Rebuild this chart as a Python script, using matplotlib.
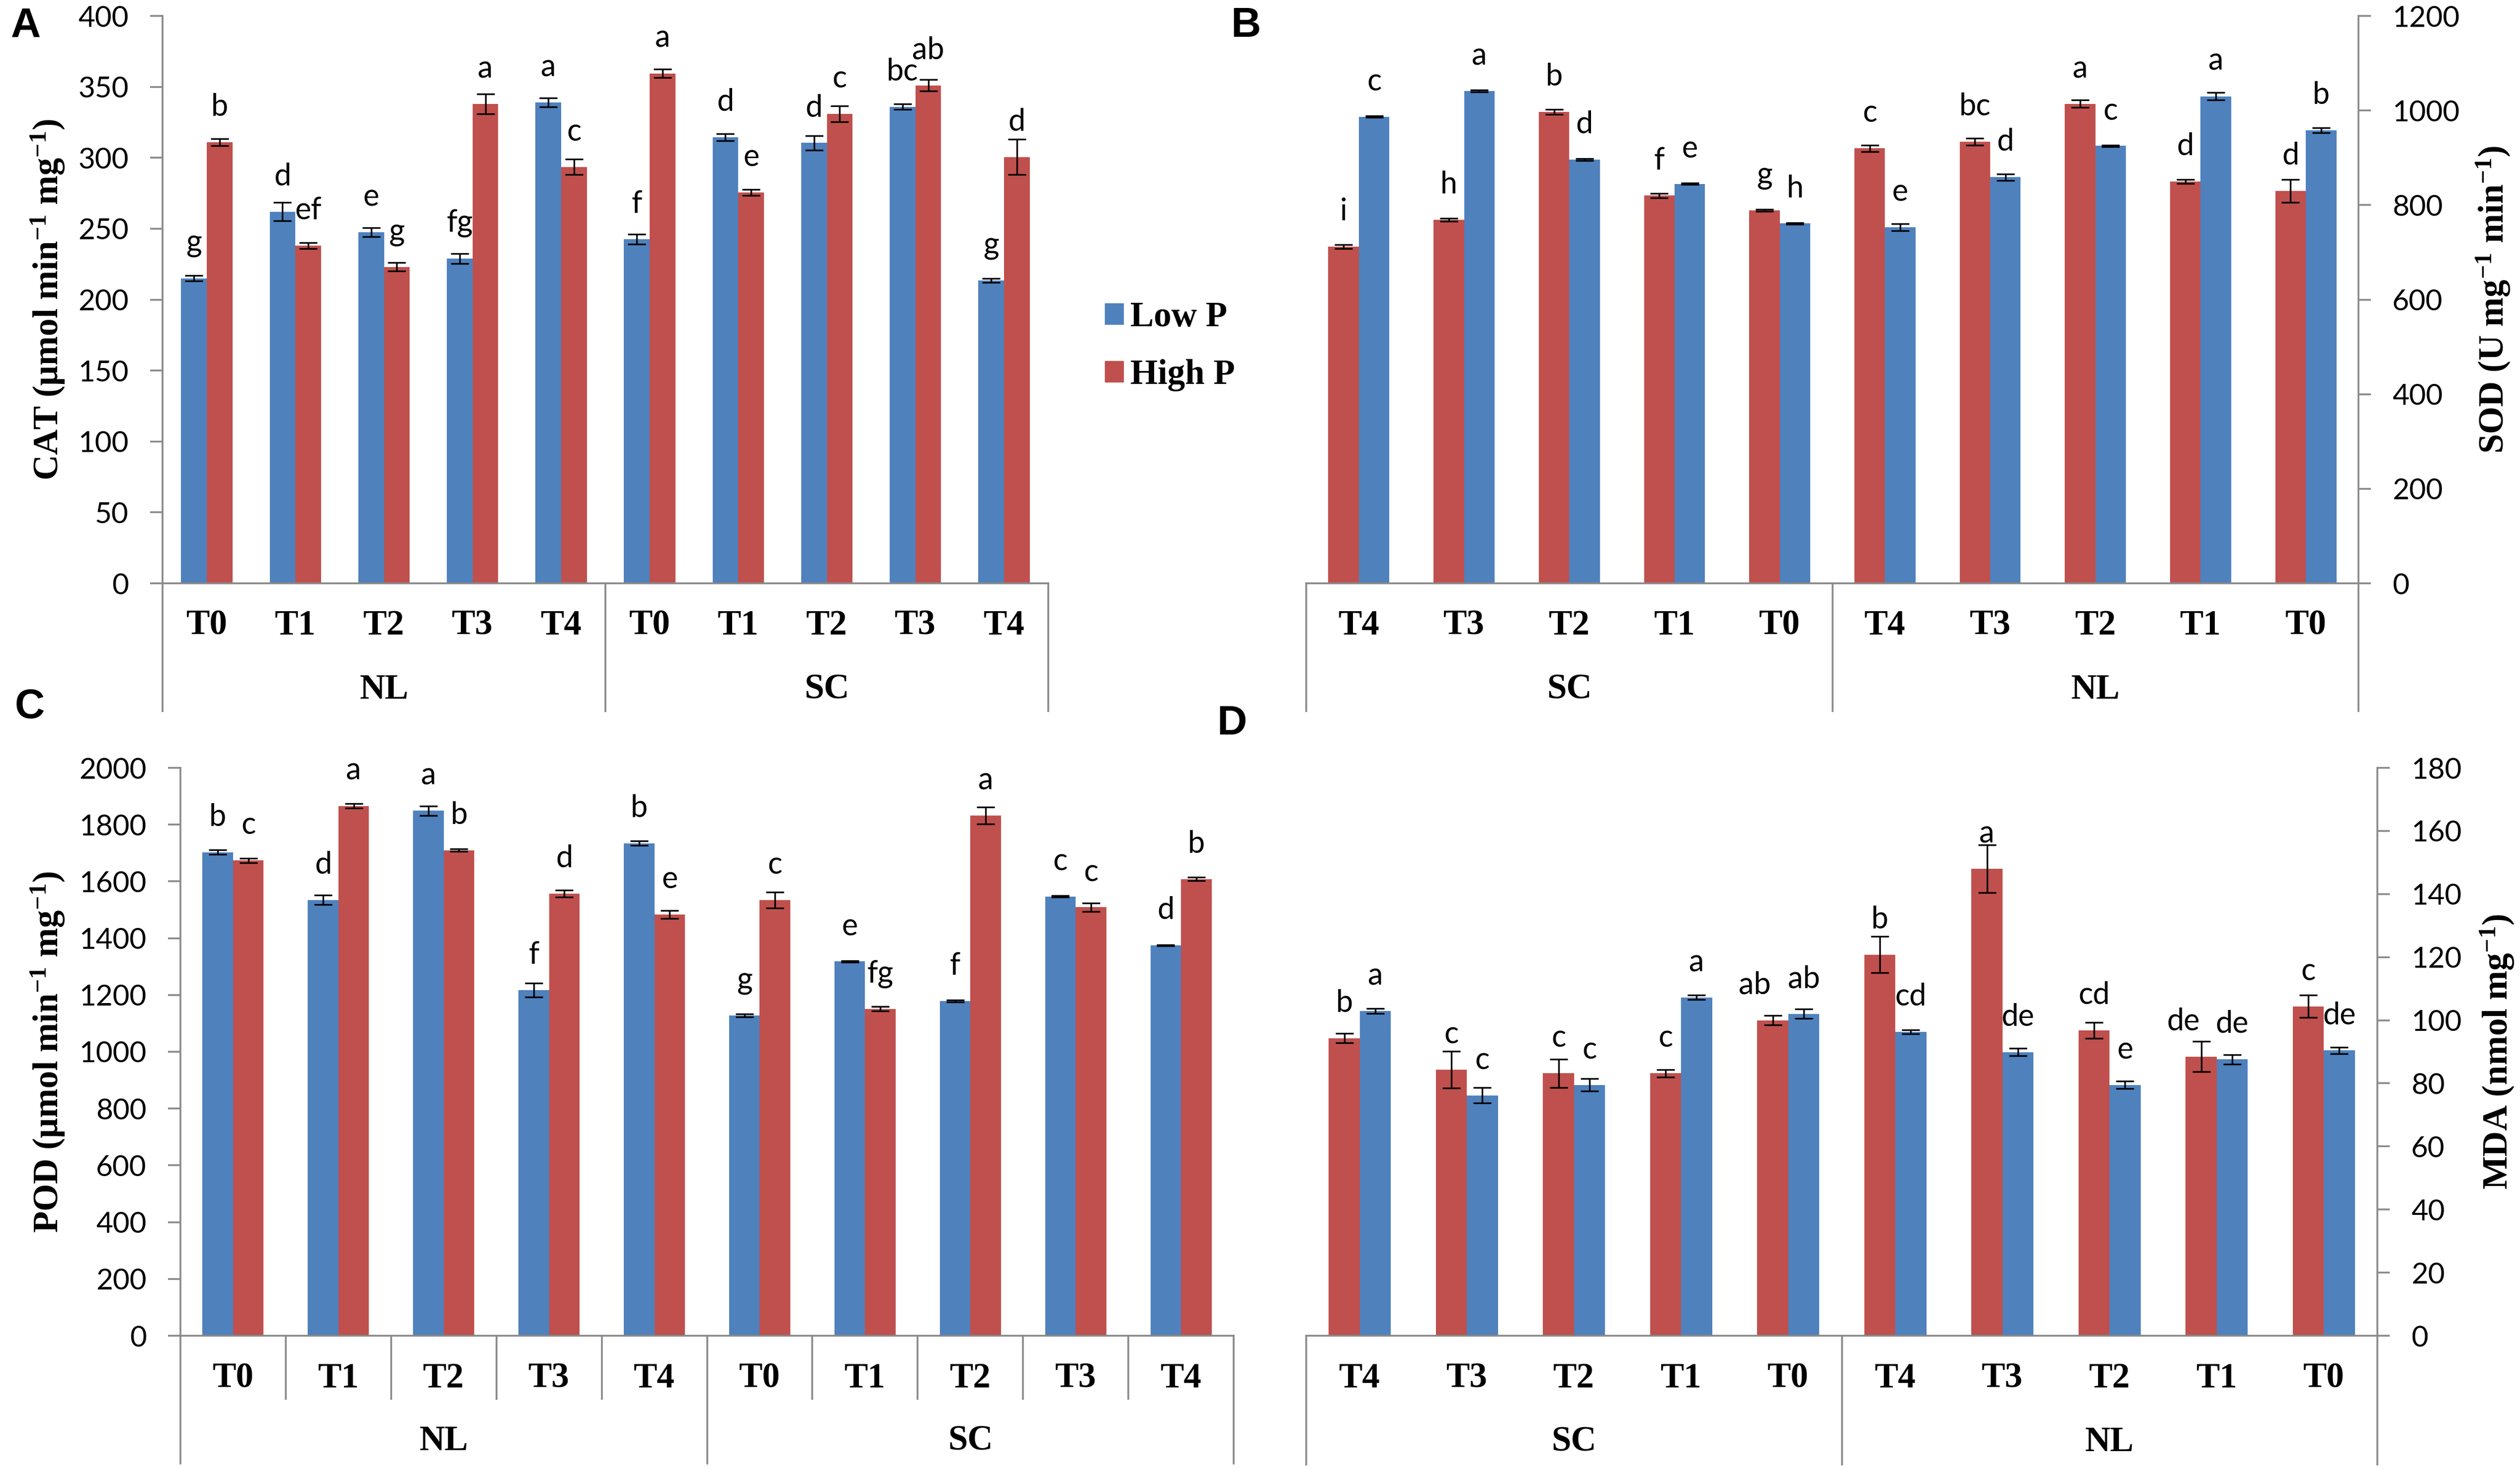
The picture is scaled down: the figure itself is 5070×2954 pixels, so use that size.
import numpy as np
import matplotlib
matplotlib.use('Agg')
import matplotlib.pyplot as plt
from matplotlib.patches import Patch

plt.rcParams['mathtext.fontset'] = 'custom'
plt.rcParams['mathtext.rm'] = 'Liberation Serif:bold'
plt.rcParams['mathtext.bf'] = 'Liberation Serif:bold'
plt.rcParams['mathtext.it'] = 'Liberation Serif:bold'

# datos
cat_fwd = ['T0', 'T1', 'T2', 'T3', 'T4', 'T0', 'T1', 'T2', 'T3', 'T4']
grp_fwd = ['NL', 'SC']
cat_rev = ['T4', 'T3', 'T2', 'T1', 'T0', 'T4', 'T3', 'T2', 'T1', 'T0']
grp_rev = ['SC', 'NL']

# A - CAT (orden NL T0..T4, SC T0..T4)
cat_low = [215, 262, 247.5, 229, 339, 242.5, 314.5, 310.5, 336, 213.5]
cat_low_err = [2, 6.5, 3, 3.5, 3, 3.5, 2.5, 5, 2, 1.5]
cat_high = [311, 238, 223, 338, 293.5, 359.5, 275.5, 331, 351, 300.5]
cat_high_err = [2.5, 2, 3, 7, 5.5, 3, 2, 5.5, 4, 12.5]
cat_low_lab = ['g', 'd', 'e', 'fg', 'a', 'f', 'd', 'd', 'bc', 'g']
cat_high_lab = ['b', 'ef', 'g', 'a', 'c', 'a', 'e', 'c', 'ab', 'd']

# B - SOD (orden SC T4..T0, NL T4..T0)
sod_high = [712, 769, 997, 820, 789, 920, 934, 1014, 850, 830]
sod_high_err = [4, 3, 5, 5, 2, 7, 7, 8, 4, 24]
sod_low = [987, 1041, 896, 845, 761, 753, 859, 925, 1030, 958]
sod_low_err = [2, 2, 2, 2, 2, 7, 7, 2, 8, 5]
sod_high_lab = ['i', 'h', 'b', 'f', 'g', 'c', 'bc', 'a', 'd', 'd']
sod_low_lab = ['c', 'a', 'd', 'e', 'h', 'e', 'd', 'c', 'a', 'b']

# C - POD (orden NL T0..T4, SC T0..T4)
pod_low = [1703, 1535, 1849, 1217, 1734, 1128, 1318, 1179, 1547, 1375]
pod_low_err = [8, 17, 17, 25, 8, 5, 3, 3, 3, 2]
pod_high = [1674, 1866, 1710, 1557, 1484, 1535, 1151, 1832, 1509, 1608]
pod_high_err = [8, 8, 5, 12, 14, 28, 8, 30, 15, 6]
pod_low_lab = ['b', 'd', 'a', 'f', 'b', 'g', 'e', 'f', 'c', 'd']
pod_high_lab = ['c', 'a', 'b', 'd', 'e', 'c', 'fg', 'a', 'c', 'b']

# D - MDA (orden SC T4..T0, NL T4..T0)
mda_high = [94.3, 84.3, 83.2, 83.2, 100, 120.8, 148, 96.8, 88.5, 104.4]
mda_high_err = [1.5, 5.8, 4.5, 1.2, 1.5, 5.8, 7.5, 2.5, 4.8, 3.5]
mda_low = [102.9, 76.2, 79.5, 107.2, 102, 96.3, 89.9, 79.5, 87.6, 90.4]
mda_low_err = [0.8, 2.5, 2, 0.7, 1.5, 0.6, 1.2, 1.2, 1.5, 1]
mda_high_lab = ['b', 'c', 'c', 'c', 'ab', 'b', 'a', 'cd', 'de', 'c']
mda_low_lab = ['a', 'c', 'c', 'a', 'ab', 'cd', 'de', 'e', 'de', 'de']

AZUL = '#4F81BD'
ROJO = '#C0504D'
GRIS = '#898989'

W, H = 5070, 2954
fig = plt.figure(figsize=(W / 100, H / 100), dpi=100)


def fx(px):
  return px / W


def fy(py):
  return 1 - py / H


def genPanel(box, cats, grupos, series, ymax, ystep, lado, ylabel, ylab_x,
             y_cat, y_grp, y_fin, y_corto=None, desplaza=None):
  left, right, top, bottom = box
  desplaza = desplaza or {}
  ax = fig.add_axes([fx(left), fy(bottom), (right - left) / W, (bottom - top) / H])
  x = np.arange(len(cats))
  ancho = 0.29
  # series: lista de (valores, errores, letras, color) de izquierda a derecha
  for k, (vals, errs, letras, color) in enumerate(series):
    pos = x + (k - 0.5) * ancho
    ax.bar(pos, vals, ancho, color=color, zorder=2)
    ax.errorbar(pos, vals, yerr=errs, fmt='none', ecolor='black',
                elinewidth=2.4, capsize=13, capthick=2.4, zorder=3)
    for i, (p, v, t) in enumerate(zip(pos, vals, letras)):
      dx = desplaza.get((k, i), 0)
      ax.annotate(t, (p, v), xytext=(dx, 38), textcoords='offset points',
                  ha='center', va='baseline', fontsize=44, family='Lato')

  ax.set_xlim(-0.5, len(cats) - 0.5)
  ax.set_ylim(0, ymax)
  ax.set_yticks(np.arange(0, ymax + 1, ystep))
  ax.set_xticks([])
  for s in ['top', 'left', 'right', 'bottom']:
    ax.spines[s].set_visible(False)
  ax.spines['bottom'].set_visible(True)
  ax.spines['bottom'].set_color(GRIS)
  ax.spines['bottom'].set_linewidth(2.6)
  ax.spines[lado].set_visible(True)
  ax.spines[lado].set_color(GRIS)
  ax.spines[lado].set_linewidth(2.6)
  if lado == 'right':
    ax.yaxis.tick_right()
  ax.tick_params(axis='y', direction='out', length=18, width=2.6, color=GRIS,
                 pad=31, labelsize=42)
  for lab in ax.get_yticklabels():
    lab.set_family('Lato')

  tr = ax.get_xaxis_transform()
  alto = bottom - top

  def yax(py):
    return (bottom - py) / alto

  for i, c in enumerate(cats):
    ax.text(i, yax(y_cat), c, transform=tr, ha='center', va='center',
            fontsize=51, family='Liberation Serif', weight='bold')
  n = len(cats) // len(grupos)
  for j, g in enumerate(grupos):
    ax.text(j * n + (n - 1) / 2, yax(y_grp), g, transform=tr, ha='center',
            va='center', fontsize=51, family='Liberation Serif', weight='bold')
  for b in np.arange(len(cats) + 1) - 0.5:
    largo = (b + 0.5) % n == 0
    if largo:
      ax.plot([b, b], [0, yax(y_fin)], transform=tr, clip_on=False,
              color=GRIS, lw=2.6)
    elif y_corto is not None:
      ax.plot([b, b], [0, yax(y_corto)], transform=tr, clip_on=False,
              color=GRIS, lw=2.6)

  fig.text(fx(ylab_x), fy((top + bottom) / 2), ylabel, rotation=90,
           ha='center', va='center', fontsize=51, family='Liberation Serif',
           weight='bold')
  return ax


genPanel((327, 2109, 32, 1173), cat_fwd, grp_fwd,
         [(cat_low, cat_low_err, cat_low_lab, AZUL),
          (cat_high, cat_high_err, cat_high_lab, ROJO)],
         400, 50, 'left', r'CAT (µmol min$^{-1}$ mg$^{-1}$)', 96,
         1258, 1387, 1430)

genPanel((2628, 4745, 32, 1173), cat_rev, grp_rev,
         [(sod_high, sod_high_err, sod_high_lab, ROJO),
          (sod_low, sod_low_err, sod_low_lab, AZUL)],
         1200, 200, 'right', r'SOD (U mg$^{-1}$ min$^{-1}$)', 5016,
         1258, 1387, 1430)

genPanel((363, 2482, 1544, 2686), cat_fwd, grp_fwd,
         [(pod_low, pod_low_err, pod_low_lab, AZUL),
          (pod_high, pod_high_err, pod_high_lab, ROJO)],
         2000, 200, 'left', r'POD (µmol min$^{-1}$ mg$^{-1}$)', 96,
         2772, 2898, 2943, y_corto=2813)

genPanel((2628, 4783, 1544, 2686), cat_rev, grp_rev,
         [(mda_high, mda_high_err, mda_high_lab, ROJO),
          (mda_low, mda_low_err, mda_low_lab, AZUL)],
         180, 20, 'right', r'MDA (nmol mg$^{-1}$)', 5024,
         2772, 2900, 2945, desplaza={(0, 4): -26, (0, 8): -26})

# letras de los paneles
for letra, px, py in [('A', 52, 53), ('B', 2506, 52), ('C', 60, 1422), ('D', 2478, 1455)]:
  fig.text(fx(px), fy(py), letra, ha='center', va='center', fontsize=60,
           family='Liberation Sans', weight='bold')

# leyenda
fig.legend(handles=[Patch(color=AZUL, label='Low P'), Patch(color=ROJO, label='High P')],
           loc='upper left', bbox_to_anchor=(fx(2223), fy(606)), frameon=False,
           prop={'family': 'Liberation Serif', 'weight': 'bold', 'size': 51},
           handlelength=0.52, handleheight=0.52, handletextpad=0.2,
           labelspacing=0.72, borderpad=0, borderaxespad=0)

plt.savefig('out.png', dpi=100)
